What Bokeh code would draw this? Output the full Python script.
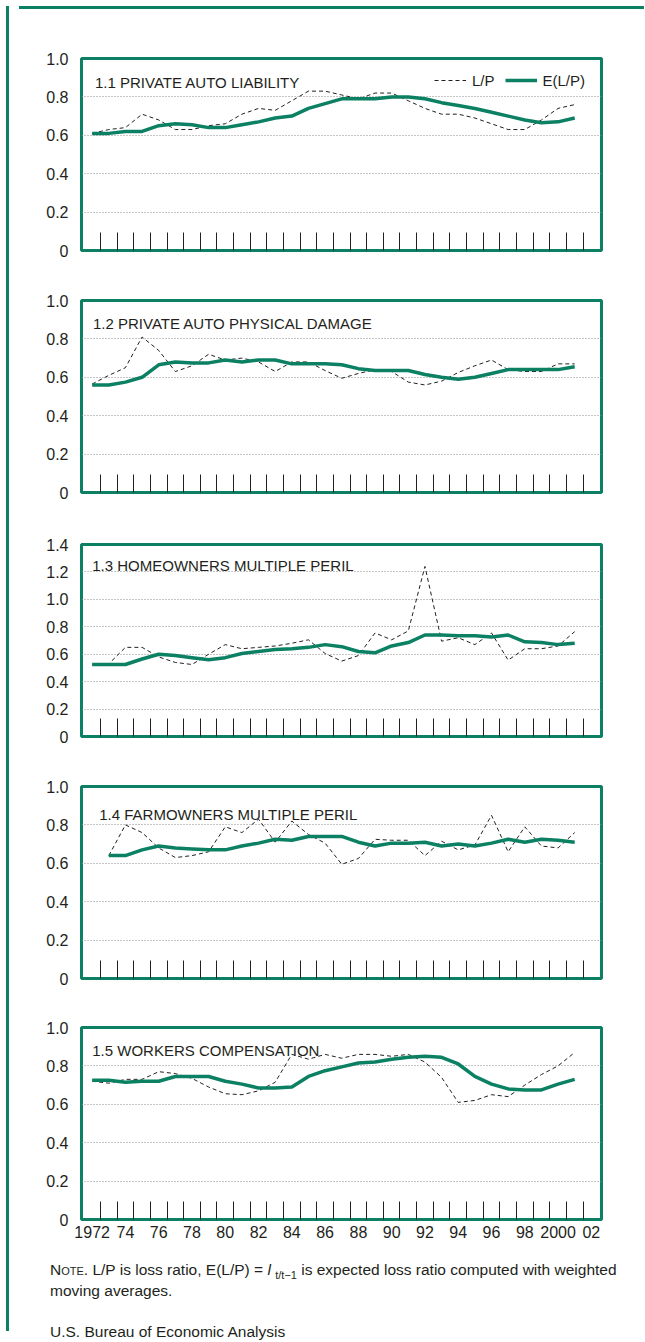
import numpy as np
from bokeh.plotting import figure
from bokeh.models import Range1d, FixedTicker, Legend, LegendItem, Label, Div, Spacer
from bokeh.layouts import column, row
from bokeh.embed import file_html
from bokeh.resources import INLINE

# ---------------- data ----------------
years = list(range(1972, 2002))

auto_liab_lp = [0.61, 0.63, 0.64, 0.71, 0.68, 0.63, 0.63, 0.65, 0.66, 0.71, 0.74, 0.73, 0.78, 0.83, 0.83,
                0.81, 0.79, 0.82, 0.82, 0.78, 0.74, 0.71, 0.71, 0.69, 0.66, 0.63, 0.63, 0.68, 0.74, 0.76]
auto_liab_elp = [0.61, 0.61, 0.62, 0.62, 0.65, 0.66, 0.655, 0.64, 0.64, 0.655, 0.67, 0.69, 0.70, 0.74, 0.765,
                 0.79, 0.79, 0.79, 0.80, 0.80, 0.79, 0.77, 0.755, 0.74, 0.72, 0.70, 0.68, 0.665, 0.67, 0.69]

auto_phys_lp = [0.565, 0.61, 0.65, 0.81, 0.74, 0.63, 0.66, 0.72, 0.69, 0.70, 0.68, 0.63, 0.68, 0.68, 0.635,
                0.595, 0.62, 0.64, 0.63, 0.575, 0.56, 0.58, 0.625, 0.66, 0.69, 0.64, 0.63, 0.63, 0.67, 0.67]
auto_phys_elp = [0.56, 0.56, 0.575, 0.60, 0.665, 0.68, 0.675, 0.675, 0.69, 0.68, 0.69, 0.69, 0.67, 0.67, 0.67,
                 0.665, 0.645, 0.635, 0.635, 0.635, 0.615, 0.60, 0.59, 0.60, 0.62, 0.64, 0.64, 0.64, 0.64, 0.655]

home_lp = [0.525, 0.53, 0.65, 0.65, 0.58, 0.54, 0.525, 0.60, 0.67, 0.64, 0.65, 0.66, 0.68, 0.705, 0.605,
           0.55, 0.59, 0.755, 0.705, 0.77, 1.24, 0.695, 0.72, 0.67, 0.755, 0.557, 0.64, 0.64, 0.66, 0.765]
home_elp = [0.525, 0.525, 0.525, 0.565, 0.60, 0.59, 0.575, 0.56, 0.575, 0.605, 0.62, 0.635, 0.64, 0.65, 0.67,
            0.655, 0.62, 0.61, 0.66, 0.685, 0.74, 0.74, 0.735, 0.735, 0.725, 0.74, 0.69, 0.685, 0.67, 0.68]

farm_lp = [None, 0.64, 0.80, 0.76, 0.68, 0.63, 0.64, 0.66, 0.79, 0.76, 0.83, 0.71, 0.82, 0.75, 0.705,
           0.595, 0.625, 0.725, 0.72, 0.72, 0.64, 0.715, 0.67, 0.695, 0.85, 0.66, 0.79, 0.69, 0.68, 0.76]
farm_elp = [None, 0.64, 0.64, 0.67, 0.69, 0.68, 0.675, 0.67, 0.67, 0.69, 0.705, 0.725, 0.72, 0.74, 0.74,
            0.74, 0.71, 0.69, 0.705, 0.705, 0.71, 0.69, 0.70, 0.69, 0.705, 0.725, 0.71, 0.725, 0.72, 0.71]

workers_lp = [0.72, 0.71, 0.73, 0.73, 0.77, 0.76, 0.735, 0.69, 0.655, 0.65, 0.67, 0.715, 0.86, 0.835, 0.86,
              0.84, 0.86, 0.86, 0.85, 0.86, 0.82, 0.74, 0.61, 0.62, 0.65, 0.64, 0.70, 0.755, 0.80, 0.87]
workers_elp = [0.725, 0.725, 0.715, 0.72, 0.72, 0.745, 0.745, 0.745, 0.72, 0.705, 0.685, 0.685, 0.69, 0.745, 0.775,
               0.795, 0.815, 0.82, 0.835, 0.845, 0.85, 0.845, 0.81, 0.745, 0.705, 0.68, 0.675, 0.675, 0.705, 0.73]

titles = ["1.1 PRIVATE AUTO  LIABILITY", "1.2 PRIVATE AUTO  PHYSICAL DAMAGE",
          "1.3 HOMEOWNERS MULTIPLE PERIL", "1.4 FARMOWNERS MULTIPLE PERIL",
          "1.5 WORKERS COMPENSATION"]
y_ticks_std = [0, 0.2, 0.4, 0.6, 0.8, 1.0]
y_labels_std = ["0", "0.2", "0.4", "0.6", "0.8", "1.0"]
y_ticks_home = [0, 0.2, 0.4, 0.6, 0.8, 1.0, 1.2, 1.4]
y_labels_home = ["0", "0.2", "0.4", "0.6", "0.8", "1.0", "1.2", "1.4"]
x_tick_years = [1972, 1974, 1976, 1978, 1980, 1982, 1984, 1986, 1988, 1990, 1992, 1994, 1996, 1998, 2000, 2002]
x_tick_labels = ["1972", "74", "76", "78", "80", "82", "84", "86", "88", "90", "92", "94", "96", "98", "2000", "02"]
legend_labels = ["L/P", "E(L/P)"]

# ---------------- style ----------------
GREEN = "#0b8063"
INK = "#231f20"
FONT = "Liberation Sans"

# per-panel: data, title, y ticks/labels, min_border_top, min_border_bottom, title dx, title dy, x labels?
panels = [
    (auto_liab_lp, auto_liab_elp, titles[0], y_ticks_std, y_labels_std, 44, 12, 13.5, 24, False),
    (auto_phys_lp, auto_phys_elp, titles[1], y_ticks_std, y_labels_std, 38, 12, 11.5, 22.5, False),
    (home_lp, home_elp, titles[2], y_ticks_home, y_labels_home, 40, 12, 10.7, 21, False),
    (farm_lp, farm_elp, titles[3], y_ticks_std, y_labels_std, 38, 12, 17.7, 28, False),
    (workers_lp, workers_elp, titles[4], y_ticks_std, y_labels_std, 37, 28, 10.7, 23, True),
]

FRAME_H = 192
FIG_W = 625
figs = []
for k, (lp, elp, title, yt, yl, btop, bbot, tdx, tdy, show_x) in enumerate(panels):
    p = figure(width=FIG_W, height=btop + FRAME_H + bbot,
               x_range=Range1d(1971.36, 2002.61), y_range=Range1d(0, yt[-1]),
               output_backend="svg", toolbar_location=None,
               min_border_left=67, min_border_right=38,
               min_border_top=btop, min_border_bottom=bbot)
    p.outline_line_color = GREEN
    p.outline_line_width = 3
    p.border_fill_color = "white"
    p.background_fill_color = "white"

    lp_arr = np.array([np.nan if v is None else v for v in lp], dtype=float)
    elp_arr = np.array([np.nan if v is None else v for v in elp], dtype=float)
    r1 = p.line(years, lp_arr, line_color=INK, line_width=1, line_dash="4 3")
    r2 = p.line(years, elp_arr, line_color=GREEN, line_width=3.5, line_join="round")

    # grid
    p.xgrid.visible = False
    p.ygrid.ticker = FixedTicker(ticks=yt[1:-1])
    p.ygrid.grid_line_color = "#8a8a8a"
    p.ygrid.grid_line_dash = "1 2"
    p.ygrid.grid_line_width = 1

    # y axis
    ya = p.yaxis[0]
    ya.ticker = FixedTicker(ticks=yt)
    ya.major_label_overrides = dict(zip(yt, yl))
    ya.axis_line_color = None
    ya.major_tick_line_color = None
    ya.minor_tick_line_color = None
    ya.major_label_standoff = 7
    ya.major_label_text_font = FONT
    ya.major_label_text_font_size = "16px"
    ya.major_label_text_color = INK

    # x axis: year-boundary ticks inside the frame
    xa = p.xaxis[0]
    xa.ticker = FixedTicker(ticks=x_tick_years if show_x else [],
                            minor_ticks=[y + 0.5 for y in years])
    xa.major_label_overrides = dict(zip(x_tick_years, x_tick_labels))
    xa.axis_line_color = None
    xa.major_tick_in = 0
    xa.major_tick_out = 0
    xa.major_tick_line_color = None
    xa.minor_tick_in = 18
    xa.minor_tick_out = 0
    xa.minor_tick_line_color = INK
    xa.minor_tick_line_width = 1
    xa.major_label_standoff = 6 if show_x else 0
    xa.major_label_text_font = FONT
    xa.major_label_text_font_size = "16px"
    xa.major_label_text_color = INK

    p.add_layout(Label(x=tdx, y=FRAME_H - tdy, x_units="screen", y_units="screen",
                       text=title, text_font=FONT, text_font_size="15px",
                       text_color=INK, text_baseline="alphabetic"))

    if k == 0:
        leg = Legend(items=[LegendItem(label=legend_labels[0], renderers=[r1]),
                            LegendItem(label=legend_labels[1], renderers=[r2])],
                     orientation="horizontal", location=(353, 160),
                     glyph_width=32, glyph_height=20, label_standoff=6, spacing=10,
                     padding=0, margin=0, border_line_color=None,
                     background_fill_alpha=0,
                     label_text_font=FONT, label_text_font_size="15px",
                     label_text_color=INK)
        p.add_layout(leg)
    figs.append(p)

note_html = ('<span style="font-variant: small-caps">Note</span>. L/P is loss ratio, '
             'E(L/P) = <i>l</i> <span style="font-size:11px; position:relative; top:4px">t/t\u22121</span>'
             ' is expected loss ratio computed with weighted<br>moving averages.')
txt_style = {"font-family": FONT, "font-size": "15.5px", "line-height": "20px",
             "color": INK, "white-space": "nowrap"}
note = Div(text=note_html, width=589, height=40, margin=(13, 0, 0, 36), styles=txt_style)
src_style = dict(txt_style)
src_style["line-height"] = "8px"
source = Div(text="U.S. Bureau of Economic Analysis", width=589, height=8,
             margin=(28, 0, 0, 36), styles=src_style)

top_strip = Div(text="", width=FIG_W, height=3, styles={"background-color": GREEN})
left_strip = Div(text="", width=3, height=1325, styles={"background-color": GREEN})

content = column(top_strip, *figs, note, source, spacing=0)
layout = column(Spacer(height=1), row(Spacer(width=1), left_strip, content, spacing=0), spacing=0)

open("out.html", "w").write(file_html(layout, INLINE))
